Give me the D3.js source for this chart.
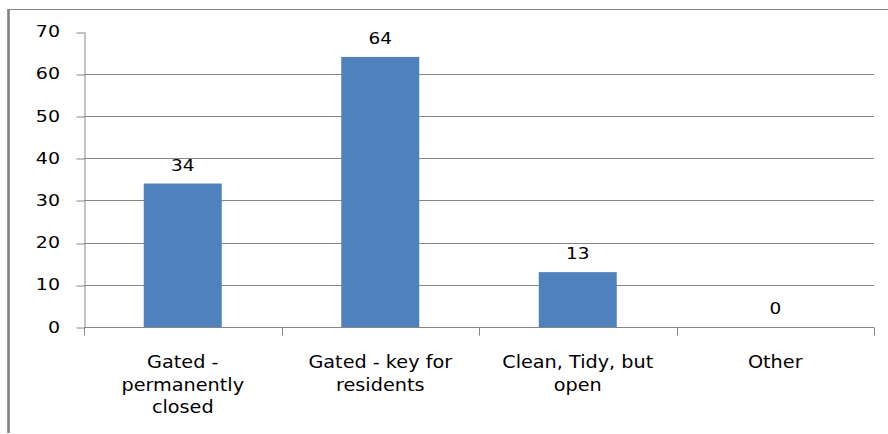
<!DOCTYPE html>
<html><head><meta charset="utf-8">
<script src="https://cdn.jsdelivr.net/npm/d3@7/dist/d3.min.js"></script>
<style>body{margin:0;background:#fff}svg{display:block}text{font-family:"DejaVu Sans",Verdana,sans-serif;fill:#000}</style>
</head><body>
<svg id="c" width="888" height="434"></svg>
<script>
const categories = [["Gated -","permanently","closed"],["Gated - key for","residents"],["Clean, Tidy, but","open"],["Other"]];
const values = [34, 64, 13, 0];
const yTicks = [0,10,20,30,40,50,60,70];

const svg = d3.select("#c");
const L = 84, R = 874, T = 31.6, B = 327;
const x = d3.scaleBand().domain(d3.range(categories.length)).range([L,R]).paddingInner(0.605).paddingOuter(0.3025);
const y = d3.scaleLinear().domain([0,70]).range([B,T]);
const grid = "#868686";

// frame
svg.append("line").attr("x1",8).attr("x2",888).attr("y1",9.5).attr("y2",9.5).attr("stroke",grid).attr("stroke-width",1.2);
svg.append("line").attr("x1",8.5).attr("x2",8.5).attr("y1",9).attr("y2",433).attr("stroke","#808080").attr("stroke-width",2.6);

// gridlines (skip top and zero)
svg.append("g").selectAll("line").data(yTicks.filter(d=>d>0 && d<70)).join("line")
  .attr("x1",L).attr("x2",R).attr("y1",d=>Math.round(y(d))+0.5).attr("y2",d=>Math.round(y(d))+0.5)
  .attr("stroke",grid).attr("stroke-width",1);

// y axis
const ya = svg.append("g").attr("transform",`translate(${L+0.5},0)`)
  .call(d3.axisLeft(y).tickValues(yTicks).tickSize(8).tickSizeOuter(0).tickFormat(d3.format("d")));
ya.select(".domain").attr("stroke",grid);
ya.selectAll(".tick line").attr("stroke",grid).attr("transform",d=>`translate(0,${Math.round(y(d))+0.5-y(d)})`);
ya.selectAll(".tick text").remove();
svg.append("g").selectAll("text").data(yTicks).join("text")
  .attr("transform",d=>`translate(60,${y(d)+5.5}) scale(1.15,1)`)
  .attr("text-anchor","end").style("font-size","16.5px").text(d=>d);

// x axis
const xa = svg.append("g").attr("transform",`translate(0,${B+0.5})`);
xa.append("line").attr("x1",L).attr("x2",R).attr("stroke",grid);
const bounds = d3.range(categories.length+1).map(i=>L+i*x.step());
xa.selectAll(".xt").data(bounds).join("line").attr("class","xt")
  .attr("x1",d=>Math.round(d)+0.5).attr("x2",d=>Math.round(d)+0.5).attr("y1",0).attr("y2",8).attr("stroke",grid);

// bars
svg.append("g").selectAll("rect").data(values).join("rect")
  .attr("x",(d,i)=>x(i)).attr("width",x.bandwidth())
  .attr("y",d=>y(d)).attr("height",d=>B-y(d)).attr("fill","#4F81BD");

// value labels
svg.append("g").selectAll("text").data(values).join("text")
  .attr("transform",(d,i)=>`translate(${x(i)+x.bandwidth()/2},${y(d)-13}) scale(1.12,1)`)
  .attr("text-anchor","middle").style("font-size","16.5px").text(d=>d);

// category labels
const cl = svg.append("g").selectAll("g").data(categories).join("g");
cl.each(function(lines,i){
  const g = d3.select(this);
  lines.forEach((t,j)=>{
    g.append("text")
      .attr("transform",`translate(${x(i)+x.bandwidth()/2},${368+j*22.5}) scale(1.1,1)`)
      .attr("text-anchor","middle").style("font-size","17.5px").text(t);
  });
});
</script>
</body></html>
